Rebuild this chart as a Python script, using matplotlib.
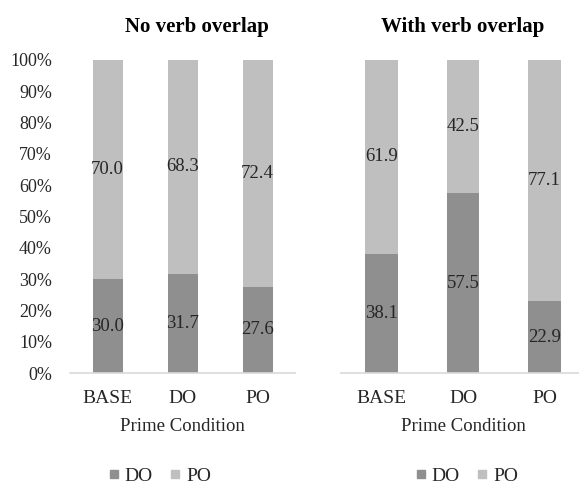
import matplotlib.pyplot as plt
from matplotlib.lines import Line2D

conditions = ["BASE", "DO", "PO"]
no_overlap_do = [30.0, 31.7, 27.6]
no_overlap_po = [70.0, 68.3, 72.4]
with_overlap_do = [38.1, 57.5, 22.9]
with_overlap_po = [61.9, 42.5, 77.1]
percent_ticks = [0, 10, 20, 30, 40, 50, 60, 70, 80, 90, 100]

DO_COLOR = "#8f8f8f"
PO_COLOR = "#bfbfbf"
AXIS_COLOR = "#d9d9d9"
TEXT_COLOR = "#262626"

plt.rcParams["font.family"] = ["Liberation Serif", "DejaVu Serif"]

fig = plt.figure(figsize=(5.79, 4.86), dpi=100)
ax_left = fig.add_axes([70 / 579, 113 / 486, 225 / 579, 313 / 486])
ax_right = fig.add_axes([341 / 579, 113 / 486, 244 / 579, 313 / 486])


def draw_panel(ax, title, do_values, po_values, bar_width, show_yticks,
               title_x=0.5):
    x = range(len(conditions))
    ax.bar(x, do_values, width=bar_width, color=DO_COLOR)
    ax.bar(x, po_values, width=bar_width, bottom=do_values, color=PO_COLOR)
    for i, (d, p) in enumerate(zip(do_values, po_values)):
        ax.text(i, d / 2, f"{d:.1f}", ha="center", va="center",
                fontsize=13.5, color=TEXT_COLOR)
        ax.text(i, d + p / 2, f"{p:.1f}", ha="center", va="center",
                fontsize=13.5, color=TEXT_COLOR)

    ax.set_xlim(-0.5, len(conditions) - 0.5)
    ax.set_ylim(0, 100)
    for side in ["top", "right", "left"]:
        ax.spines[side].set_visible(False)
    ax.spines["bottom"].set_color(AXIS_COLOR)
    ax.spines["bottom"].set_linewidth(1.2)

    ax.set_xticks(list(x))
    ax.set_xticklabels(conditions, fontsize=14, color=TEXT_COLOR)
    ax.tick_params(axis="x", length=0, pad=12)
    if show_yticks:
        ax.set_yticks(percent_ticks)
        ax.set_yticklabels([f"{t}%" for t in percent_ticks],
                           fontsize=13, color=TEXT_COLOR)
        ax.tick_params(axis="y", length=0, pad=13)
    else:
        ax.set_yticks([])

    ax.set_xlabel("Prime Condition", fontsize=13.5, color=TEXT_COLOR,
                  labelpad=8)
    ax.set_title(title, fontsize=15, fontweight="bold", color="black",
                 pad=20, x=title_x)

    handles = [
        Line2D([], [], marker="s", linestyle="none", markersize=5.5,
               markerfacecolor=DO_COLOR, markeredgecolor=DO_COLOR, label="DO"),
        Line2D([], [], marker="s", linestyle="none", markersize=5.5,
               markerfacecolor=PO_COLOR, markeredgecolor=PO_COLOR, label="PO"),
    ]
    return handles


handles = draw_panel(ax_left, "No verb overlap", no_overlap_do, no_overlap_po,
                     0.4, True, title_x=0.565)
draw_panel(ax_right, "With verb overlap", with_overlap_do, with_overlap_po,
           0.4, False)

legend_kw = dict(ncol=2, frameon=False, fontsize=14, handlelength=0.5,
                 handletextpad=0.3, columnspacing=0.9,
                 labelcolor=TEXT_COLOR, loc="center")
fig.legend(handles=handles, bbox_to_anchor=(160 / 579, 1 - 476 / 486),
           **legend_kw)
fig.legend(handles=handles, bbox_to_anchor=(467 / 579, 1 - 476 / 486),
           **legend_kw)

fig.savefig("out.png", dpi=100)
